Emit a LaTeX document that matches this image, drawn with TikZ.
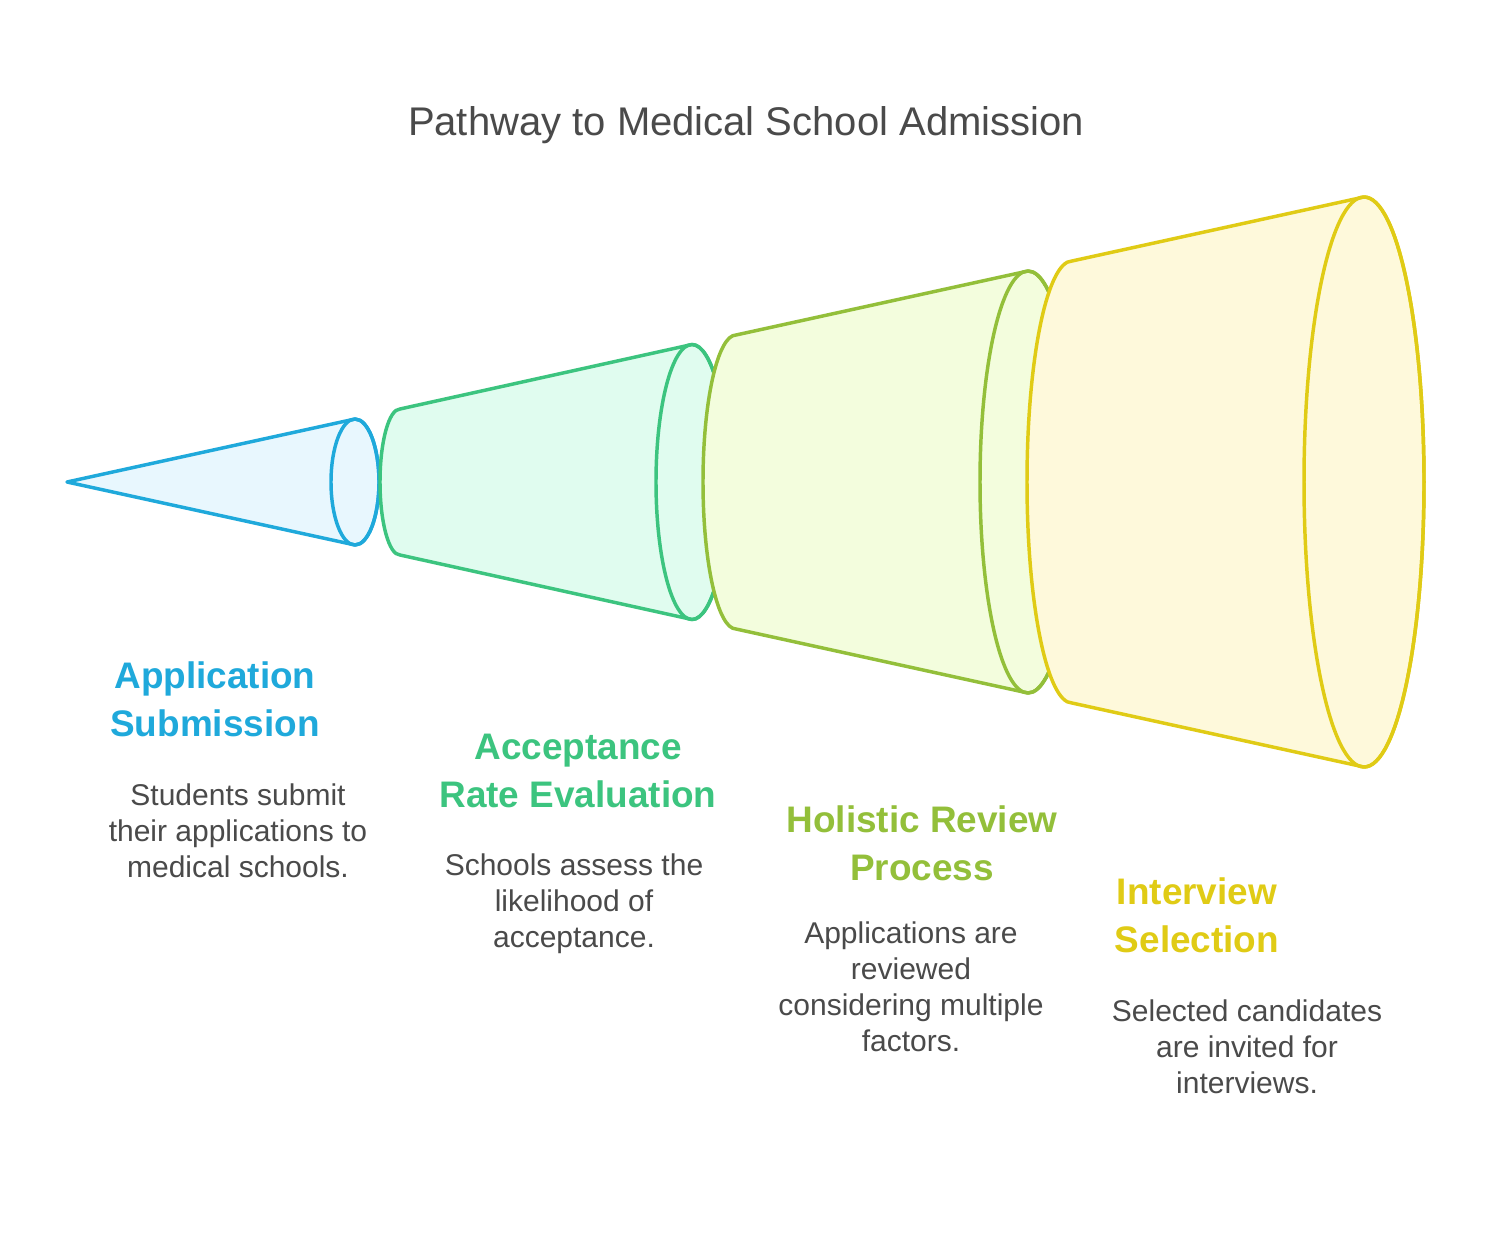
\documentclass[tikz,border=0pt]{standalone}
\usepackage{fontspec}
\setmainfont{Liberation Sans}
\definecolor{txt}{HTML}{4A4A4A}
\definecolor{cA}{HTML}{1FA9DB}\definecolor{fA}{HTML}{E8F7FE}
\definecolor{cB}{HTML}{3CC47F}\definecolor{fB}{HTML}{E0FCEF}
\definecolor{cC}{HTML}{93BF3A}\definecolor{fC}{HTML}{F3FDDD}
\definecolor{cD}{HTML}{E0CB15}\definecolor{fD}{HTML}{FEF9DB}
\tikzset{
  seg/.style={line width=2.6pt, line join=round},
  head/.style={align=center, font=\fontsize{27.7pt}{36pt}\selectfont\bfseries, inner sep=0pt},
  body/.style={align=center, text=txt, font=\fontsize{22.5pt}{27pt}\selectfont, inner sep=0pt},
}
\begin{document}
\begin{tikzpicture}[x=0.75pt,y=-0.75pt]
\useasboundingbox (0,0) rectangle (1492,1252);
\fill[white] (0,0) rectangle (1492,1252);
% title
\node[text=txt, font=\fontsize{30pt}{36pt}\selectfont, inner sep=0pt] (title) at (746,125) {Pathway to Medical School Admission};
% segment 1
\draw[seg, draw=cA, fill=fA] (67,482) -- (355,419) arc[start angle=-90, end angle=90, x radius=24, y radius=63] -- cycle;
\draw[seg, draw=cA] (355,482) ellipse[x radius=24, y radius=63];
% segment 2
\draw[seg, draw=cB, fill=fB] (400,409) arc[start angle=270, end angle=90, x radius=20, y radius=73] -- (692,619.5) arc[start angle=90, end angle=-90, x radius=36, y radius=137.5] -- cycle;
\draw[seg, draw=cB] (692,482) ellipse[x radius=36, y radius=137.5];
% segment 3
\draw[seg, draw=cC, fill=fC] (736,335) arc[start angle=270, end angle=90, x radius=33, y radius=147] -- (1028,693) arc[start angle=90, end angle=-90, x radius=48, y radius=211] -- cycle;
\draw[seg, draw=cC] (1028,482) ellipse[x radius=48, y radius=211];
% segment 4
\draw[seg, draw=cD, fill=fD] (1072,261) arc[start angle=270, end angle=90, x radius=45, y radius=221] -- (1364,767) arc[start angle=90, end angle=-90, x radius=60, y radius=285] -- cycle;
\draw[seg, draw=cD] (1364,482) ellipse[x radius=60, y radius=285];
% labels
\node[head, text=cA] (h1) at (215,699) {Application\\Submission};
\node[body] (b1) at (238,831) {Students submit\\their applications to\\medical schools.};
\node[head, text=cB] (h2) at (578,771) {Acceptance\\Rate Evaluation};
\node[body] (b2) at (574,903.5) {Schools assess the\\likelihood of\\acceptance.};
\node[head, text=cC] (h3) at (922,843) {Holistic Review\\Process};
\node[body] (b3) at (911,987) {Applications are\\reviewed\\considering multiple\\factors.};
\node[head, text=cD] (h4) at (1197,915) {Interview\\Selection};
\node[body] (b4) at (1247,1047) {Selected candidates\\are invited for\\interviews.};
\end{tikzpicture}
\end{document}
